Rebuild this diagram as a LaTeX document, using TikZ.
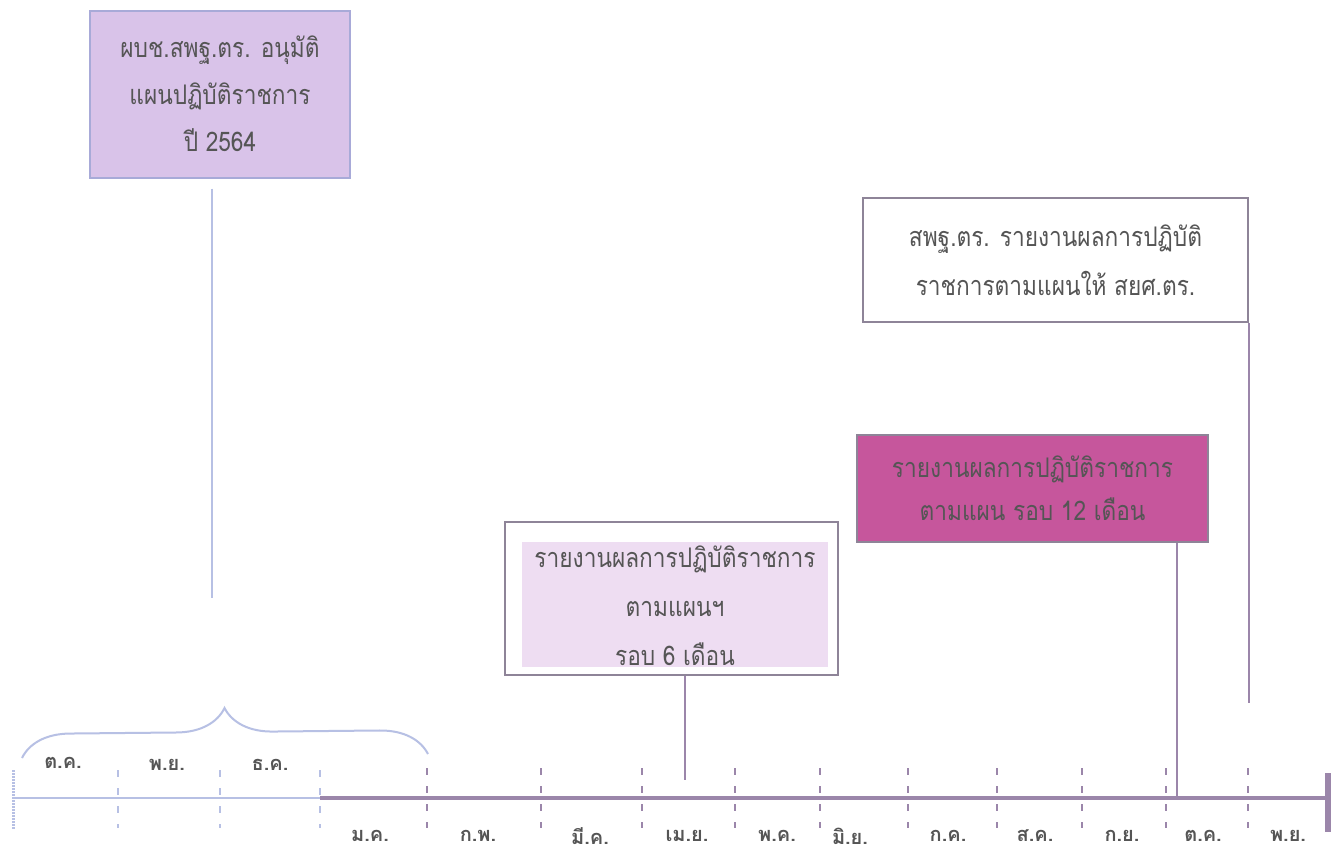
\documentclass[tikz,border=0pt]{standalone}
\usepackage{fontspec}
\newfontfamily\thaifont[Script=Thai]{Loma}
\newfontfamily\thaibox[Script=Thai,FakeStretch=0.84]{Loma}
\usetikzlibrary{decorations.pathreplacing,calc}
\definecolor{txt}{HTML}{555555}
\definecolor{planfill}{HTML}{D9C3E9}
\definecolor{planedge}{HTML}{A8AAD8}
\definecolor{lavlight}{HTML}{EEDDF2}
\definecolor{frameedge}{HTML}{8E8498}
\definecolor{magenta12}{HTML}{C6569C}
\definecolor{lightblue}{HTML}{B7C0E4}
\definecolor{tlpurple}{HTML}{9B86AA}
\tikzset{
  boxtext/.style={align=center, text=txt, inner sep=0pt,
    font=\thaibox\fontsize{27}{47}\selectfont},
  month/.style={text=txt, inner sep=0pt, font=\thaifont\bfseries\fontsize{20}{20}\selectfont},
  conn/.style={draw=tlpurple, line width=2.5pt},
  lightconn/.style={draw=lightblue, line width=2pt},
  ticklight/.style={draw=lightblue, line width=2pt, dash pattern=on 7pt off 11pt},
  tickdark/.style={draw=tlpurple, line width=2.5pt, dash pattern=on 7pt off 11pt},
}
\begin{document}
\begin{tikzpicture}[x=1pt,y=-1pt]
\useasboundingbox[fill=white] (0,0) rectangle (1335,852);

% top-left plan box
\node[boxtext, draw=planedge, fill=planfill, line width=2pt,
      minimum width=260pt, minimum height=167pt] (plan) at (220,94)
  {ผบช.สพฐ.ตร. อนุมัติ\\แผนปฏิบัติราชการ\\ปี 2564};
\coordinate (planend) at (212,598);
\draw[lightconn, shorten <=10pt] (plan.south -| planend) -- (planend);

% brace
\draw[draw=lightblue, line width=2pt, decorate, decoration={brace, amplitude=48pt}]
  (22,758) -- (428,754);

% timeline
\draw[draw=lightblue, line width=2.5pt] (12,798) -- (320,798);
\draw[draw=tlpurple, line width=4pt] (320,798) -- (1328,798);
\draw[draw=lightblue, line width=3pt, dash pattern=on 2pt off 1pt] (13,770) -- (13,829);
\draw[draw=tlpurple, line width=6pt] (1328,773) -- (1328,832);
\foreach \x in {118,220,320} \draw[ticklight] (\x,770) -- (\x,828);
\foreach \x in {427,541,642,735,820,908,997,1082,1166,1248} \draw[tickdark] (\x,768) -- (\x,828);

% month labels
\node[month] (m1) at (63,763) {ต.ค.};
\node[month] (m2) at (167,765) {พ.ย.};
\node[month] (m3) at (270,765) {ธ.ค.};
\node[month] (m4) at (370,836) {ม.ค.};
\node[month] (m5) at (478,836) {ก.พ.};
\node[month] (m6) at (590,836) {มี.ค.};
\node[month] (m7) at (687,836) {เม.ย.};
\node[month] (m8) at (777,836) {พ.ค.};
\node[month] (m9) at (850,836) {มิ.ย.};
\node[month] (m10) at (948,836) {ก.ค.};
\node[month] (m11) at (1035,836) {ส.ค.};
\node[month] (m12) at (1122,836) {ก.ย.};
\node[month] (m13) at (1203,836) {ต.ค.};
\node[month] (m14) at (1288,836) {พ.ย.};

% 6-month box
\node[draw=frameedge, fill=white, line width=2pt, minimum width=333pt, minimum height=153pt]
  (r6) at (671.5,598.5) {};
\fill[lavlight] (522,542) rectangle (828,667);
\node[boxtext, font=\thaibox\fontsize{27}{49}\selectfont] (r6t) at (675,606) {รายงานผลการปฏิบัติราชการ\\ตามแผนฯ\\รอบ 6 เดือน};
\coordinate (r6end) at (685,780);
\draw[conn] (r6.south -| r6end) -- (r6end);

% 12-month magenta box
\node[boxtext, draw=frameedge, fill=magenta12, line width=1.5pt,
      minimum width=351pt, minimum height=107pt, font=\thaibox\fontsize{27}{43}\selectfont]
  (r12) at (1032.5,488.5) {รายงานผลการปฏิบัติราชการ\\ตามแผน รอบ 12 เดือน};
\coordinate (r12end) at (1177,798);
\draw[conn] (r12.south -| r12end) -- (r12end);

% report box
\node[boxtext, draw=frameedge, fill=white, line width=2pt,
      minimum width=385pt, minimum height=124pt, font=\thaibox\fontsize{27}{49}\selectfont]
  (rt) at (1055.5,260) {สพฐ.ตร. รายงานผลการปฏิบัติ\\ราชการตามแผนให้ สยศ.ตร.};
\coordinate (rtend) at (1249,703);
\draw[conn] (rt.south east) -- (rtend);
\end{tikzpicture}
\end{document}
